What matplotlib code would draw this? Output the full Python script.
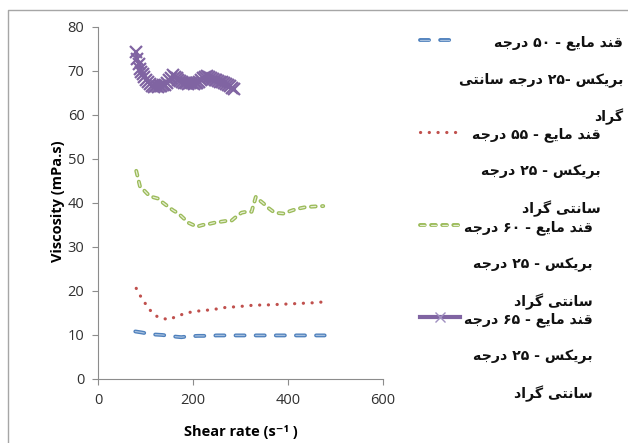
import re
import matplotlib
matplotlib.use("Agg")
import matplotlib.pyplot as plt
from matplotlib.lines import Line2D

plt.rcParams['lines.scale_dashes'] = False

# ---- data ----
x50 = [78, 90, 105, 120, 135, 150, 165, 175, 190, 210, 230, 250, 275, 300, 325, 350, 375, 400, 425, 450, 477]
y50 = [10.8, 10.6, 10.3, 10.1, 10.0, 9.8, 9.6, 9.5, 9.7, 9.8, 9.8, 9.9, 9.9, 9.9, 9.9, 9.9, 9.9, 9.9, 9.9, 9.9, 9.9]

x55 = [80, 88, 97, 106, 115, 124, 135, 148, 160, 172, 186, 200, 215, 235, 255, 270, 290, 310, 330, 350, 370, 390, 410, 430, 450, 473]
y55 = [20.6, 19.0, 17.5, 16.0, 15.0, 14.2, 13.8, 13.5, 14.0, 14.5, 15.0, 15.3, 15.5, 15.7, 16.0, 16.3, 16.4, 16.6, 16.8, 16.8, 16.9, 17.0, 17.1, 17.2, 17.3, 17.5]

x60 = [80, 88, 97, 106, 116, 126, 137, 148, 158, 169, 180, 190, 200, 207, 220, 232, 244, 256, 268, 281, 292, 302, 312, 323, 332, 340, 348, 358, 369, 380, 390, 400, 411, 425, 439, 455, 474]
y60 = [47.3, 43.7, 42.8, 41.8, 41.3, 41.0, 40.0, 39.1, 38.3, 37.6, 36.5, 35.5, 35.0, 34.6, 35.0, 35.2, 35.5, 35.7, 35.9, 36.0, 37.0, 37.8, 38.0, 38.0, 41.4, 40.6, 39.9, 38.9, 38.0, 37.7, 37.6, 38.0, 38.4, 38.8, 39.1, 39.2, 39.3]

x65 = [79, 82, 85, 88, 91, 94, 97, 101, 105, 109, 113, 117, 121, 125, 129, 133, 137, 141, 145, 149,
       153, 157, 161, 165, 169, 173, 177, 181, 185, 189, 193, 197, 201, 205, 209, 213, 217, 221, 225, 229,
       233, 237, 241, 245, 249, 253, 257, 261, 265, 269, 273, 277, 281, 285]
y65 = [74.4, 72.8, 71.6, 70.5, 69.8, 69.2, 68.6, 68.0, 67.5, 67.0, 66.6, 66.4, 66.5, 66.3, 66.6, 66.5, 66.7, 66.9, 67.3, 67.9,
       68.5, 69.0, 68.7, 68.3, 68.0, 67.8, 67.6, 67.3, 67.2, 67.1, 67.3, 67.2, 67.0, 67.2, 67.3, 67.5, 68.0, 68.4, 68.7, 68.9,
       68.6, 68.4, 68.1, 68.0, 67.9, 67.7, 67.6, 67.4, 67.2, 67.0, 66.8, 66.5, 66.2, 66.0]

legend1 = ['قند مایع - ۵۰ درجه', 'بریکس -۲۵ درجه سانتی', 'گراد']
legend2 = ['قند مایع - ۵۵ درجه', 'بریکس - ۲۵ درجه', 'سانتی گراد']
legend3 = ['قند مایع - ۶۰ درجه', 'بریکس - ۲۵ درجه', 'سانتی گراد']
legend4 = ['قند مایع - ۶۵ درجه', 'بریکس - ۲۵ درجه', 'سانتی گراد']

# ---- minimal Persian shaping (matplotlib has no RTL layout) ----
FORMS = {
    'ق': '\uFED5\uFED6\uFED7\uFED8', 'ن': '\uFEE5\uFEE6\uFEE7\uFEE8',
    'م': '\uFEE1\uFEE2\uFEE3\uFEE4', 'ی': '\uFBFC\uFBFD\uFBFE\uFBFF',
    'ع': '\uFEC9\uFECA\uFECB\uFECC', 'ب': '\uFE8F\uFE90\uFE91\uFE92',
    'ک': '\uFB8E\uFB8F\uFB90\uFB91', 'س': '\uFEB1\uFEB2\uFEB3\uFEB4',
    'ج': '\uFE9D\uFE9E\uFE9F\uFEA0', 'ه': '\uFEE9\uFEEA\uFEEB\uFEEC',
    'ت': '\uFE95\uFE96\uFE97\uFE98', 'گ': '\uFB92\uFB93\uFB94\uFB95',
    'ا': '\uFE8D\uFE8E', 'د': '\uFEA9\uFEAA', 'ر': '\uFEAD\uFEAE',
}


def shape(s):
    out = []
    for i, ch in enumerate(s):
        if ch not in FORMS:
            out.append(ch)
            continue
        f = FORMS[ch]
        prev = s[i - 1] if i > 0 else ''
        nxt = s[i + 1] if i + 1 < len(s) else ''
        jp = prev in FORMS and len(FORMS[prev]) == 4
        jn = nxt in FORMS and len(f) == 4
        if jp and jn:
            out.append(f[3])
        elif jp:
            out.append(f[1])
        elif jn:
            out.append(f[2])
        else:
            out.append(f[0])
    t = ''.join(out)[::-1]
    return re.sub(r'[\u06F0-\u06F9]+', lambda m: m.group(0)[::-1], t)


blue, blue_in = '#4F81BD', '#A7C0DE'
red = '#C0504D'
green, green_in = '#9BBB59', '#E6EED5'
purple = '#8064A2'

styles = {
    50: [dict(color=blue, lw=2.8, dashes=(6.5, 8.0), dash_capstyle='round'),
         dict(color=blue_in, lw=0.9, dashes=(6.5, 8.0), dash_capstyle='round')],
    55: [dict(color=red, lw=2.3, dashes=(0.1, 6.2), dash_capstyle='round')],
    60: [dict(color=green, lw=2.8, dashes=(3.4, 4.6), dash_capstyle='round'),
         dict(color=green_in, lw=0.9, dashes=(3.4, 4.6), dash_capstyle='round')],
    65: [dict(color=purple, lw=2.2, marker='x', ms=8, mew=1.6)],
}

fig = plt.figure(figsize=(6.28, 4.43), dpi=100)
ax = fig.add_axes([0.1565, 0.1445, 0.4534, 0.7946])

for x, y, k in [(x50, y50, 50), (x55, y55, 55), (x60, y60, 60), (x65, y65, 65)]:
    for st in styles[k]:
        ax.plot(x, y, **st)

ax.set_xlim(0, 600)
ax.set_ylim(0, 80)
ax.set_xticks([0, 200, 400, 600])
ax.set_yticks(range(0, 81, 10))
for s in ['top', 'right']:
    ax.spines[s].set_visible(False)
for s in ['left', 'bottom']:
    ax.spines[s].set_color('#8C8C8C')
ax.tick_params(direction='out', length=4, color='#8C8C8C', labelsize=10.5,
               labelcolor='#303030', pad=6)
for lab in ax.get_xticklabels() + ax.get_yticklabels():
    lab.set_fontfamily('Open Sans')

fig.text(0.092, 0.545, 'Viscosity (mPa.s)', rotation=90, ha='center', va='center',
         fontsize=10.5, fontweight='bold', family='Open Sans')
fig.text(0.384, 0.024, 'Shear rate (s\u207B\u00B9 )', ha='center', va='center',
         fontsize=10.5, fontweight='bold', family=['Open Sans', 'DejaVu Sans'])

# outer chart frame
fig.add_artist(Line2D([8 / 628, 8 / 628, 1.0], [0.0, 1 - 10 / 443, 1 - 10 / 443],
                      transform=fig.transFigure, color='#A6A6A6', lw=1.0))

# legend
entries = [(legend1, 50, 43, 623), (legend2, 55, 135, 601), (legend3, 60, 228, 593), (legend4, 65, 320, 593)]
for lines, k, ytop, xr in entries:
    ys = 1 - (ytop - 3) / 443
    lx = [420 / 628, 460 / 628]
    if k == 65:
        fig.add_artist(Line2D(lx, [ys, ys], transform=fig.transFigure, color=purple, lw=3))
        fig.add_artist(Line2D([440 / 628], [ys], transform=fig.transFigure, color='#A090C0',
                              marker='x', ms=7, mew=1.0, lw=0))
    else:
        for st in styles[k]:
            fig.add_artist(Line2D(lx, [ys, ys], transform=fig.transFigure, **st))
    for j, t in enumerate(lines):
        fig.text(xr / 628, 1 - (ytop + 37 * j) / 443, shape(t), ha='right', va='center',
                 fontsize=10.2, fontweight='bold', family='DejaVu Sans', color='#111111')

fig.savefig('out.png', dpi=100)
